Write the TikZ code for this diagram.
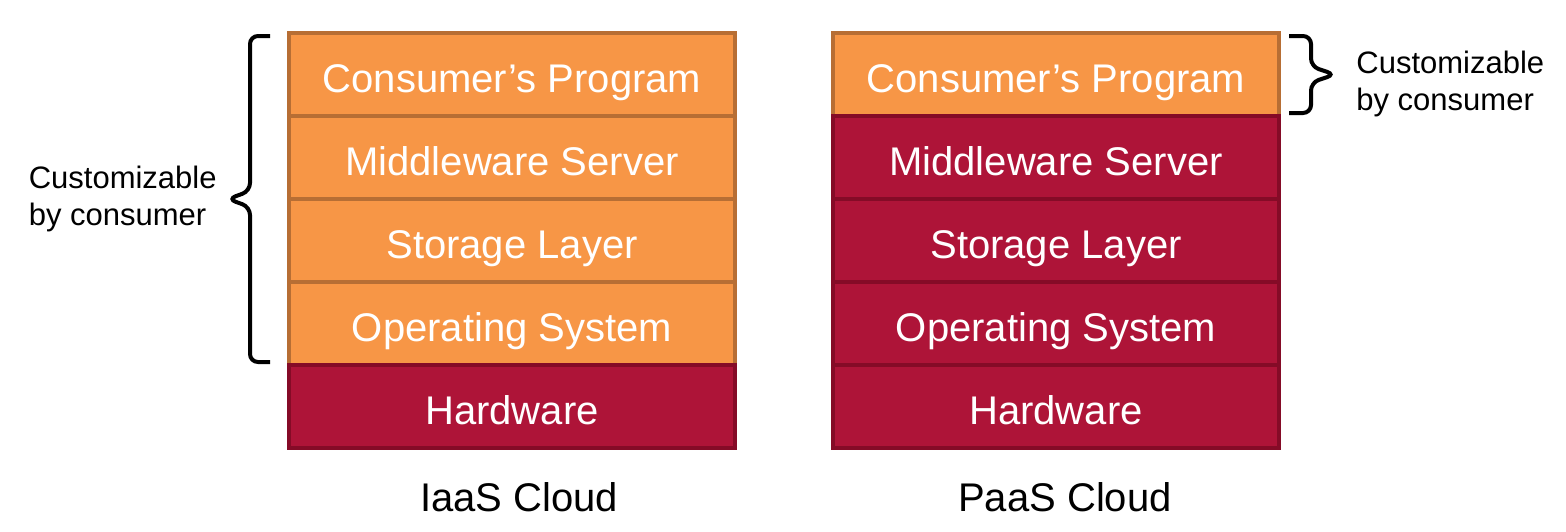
\documentclass[tikz,border=0pt]{standalone}
\usepackage{fontspec}
\setmainfont{Liberation Sans}
\usepackage{xcolor}
\usepackage{tikz}
\usetikzlibrary{positioning,calc}
\definecolor{custfill}{HTML}{F79646}
\definecolor{custstroke}{HTML}{B76E34}
\definecolor{fixfill}{HTML}{AE1438}
\definecolor{fixstroke}{HTML}{850B27}
\tikzset{
  layer/.style = {draw, line width=2pt, outer sep=0pt, inner sep=0pt,
                  minimum width=223pt, minimum height=41.5pt, text=white,
                  text height=18pt, text depth=0pt,
                  font=\fontsize{20}{24}\selectfont},
  cust/.style  = {layer, fill=custfill, draw=custstroke},
  fixd/.style  = {layer, fill=fixfill, draw=fixstroke},
  brc/.style   = {line width=2pt, rounded corners=4pt},
  lab/.style   = {align=left, inner sep=0pt, font=\fontsize{15.5}{18.5}\selectfont},
  ttl/.style   = {inner sep=0pt, font=\fontsize{20}{24}\selectfont},
}
\begin{document}
\begin{tikzpicture}
  \useasboundingbox (0,0) rectangle (783pt,-265.5pt);

  % --- IaaS stack ---
  \node[cust, anchor=north west] (progI) at (144.5pt,-16.5pt) {Consumer’s Program};
  \node[cust, below=0pt of progI] (midI) {Middleware Server};
  \node[cust, below=0pt of midI]  (stoI) {Storage Layer};
  \node[cust, below=0pt of stoI]  (osI)  {Operating System};
  \node[fixd, below=0pt of osI]   (hwI)  {Hardware};
  \node[ttl, below=17pt of hwI, xshift=3.5pt] (iaas) {IaaS Cloud};

  % --- PaaS stack ---
  \node[cust, right=49pt of progI] (progP) {Consumer’s Program};
  \node[fixd, below=0pt of progP] (midP) {Middleware Server};
  \node[fixd, below=0pt of midP]  (stoP) {Storage Layer};
  \node[fixd, below=0pt of stoP]  (osP)  {Operating System};
  \node[fixd, below=0pt of osP]   (hwP)  {Hardware};
  \node[ttl, below=17pt of hwP, xshift=4.5pt] (paas) {PaaS Cloud};

  % --- left brace: four layers ---
  \coordinate (bt) at ([xshift=-9.5pt,yshift=-1.5pt]progI.north west);
  \coordinate (bb) at ([xshift=-9.5pt,yshift=1.5pt]osI.south west);
  \coordinate (btip) at ([xshift=-21pt]$(bt)!0.5!(bb)$);
  \draw[brc] (bt) -- ++(-10pt,0) -- ([xshift=11pt,yshift=4pt]btip) -- (btip)
        -- ([xshift=11pt,yshift=-4pt]btip) -- ([xshift=-10pt]bb) -- (bb);
  \node[lab, left=5.5pt of btip] (custI) {Customizable\\by consumer};

  % --- right brace: program only ---
  \coordinate (rt) at ([xshift=5pt,yshift=-1.5pt]progP.north east);
  \coordinate (rb) at ([xshift=5pt,yshift=1.5pt]progP.south east);
  \coordinate (rtip) at ([xshift=23pt]$(rt)!0.5!(rb)$);
  \draw[brc] (rt) -- ++(11pt,0) -- ([xshift=-12pt,yshift=4pt]rtip) -- (rtip)
        -- ([xshift=-12pt,yshift=-4pt]rtip) -- ([xshift=11pt]rb) -- (rb);
  \node[lab, right=10.5pt of rtip, yshift=-4.5pt] (custP) {Customizable\\by consumer};
\end{tikzpicture}
\end{document}
